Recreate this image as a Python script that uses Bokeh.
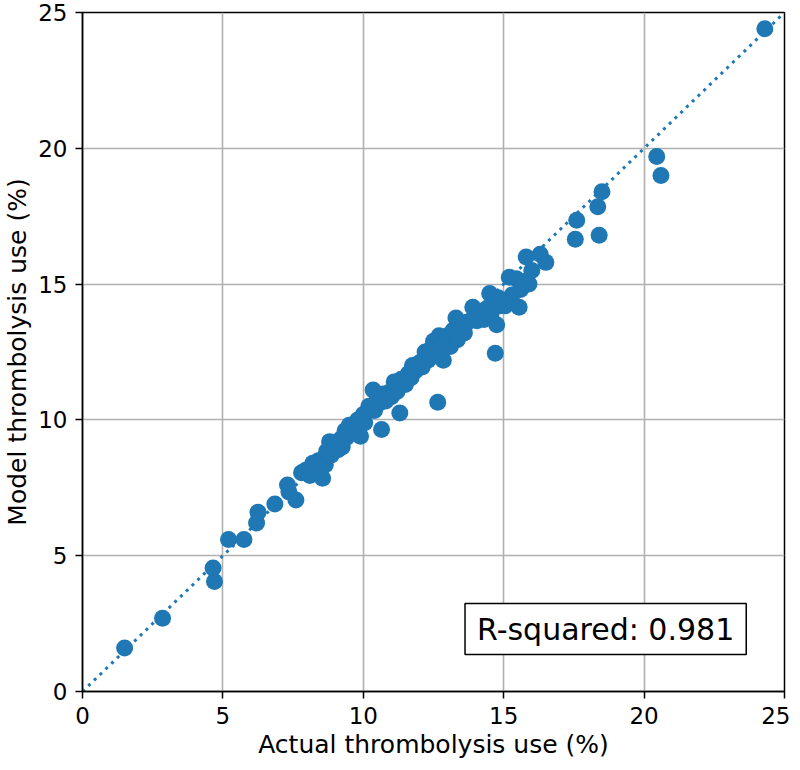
from bokeh.plotting import figure
from bokeh.models import Label, Range1d, FixedTicker
from bokeh.embed import file_html
from bokeh.resources import INLINE

actual = [1.5, 2.85, 4.65, 4.7, 5.2, 5.75, 6.25, 6.2, 6.85, 7.3, 7.35, 7.6, 7.8, 7.95, 8.1, 8.2, 8.3,
          8.4, 8.55, 8.6, 8.65, 8.7, 8.8, 8.85, 8.95, 9.0, 9.1, 9.2, 9.25, 9.35, 9.4, 9.5, 9.55, 9.65,
          9.8, 9.85, 9.9, 10.0, 10.05, 10.2, 10.35, 10.4, 10.5, 10.55, 10.65, 10.7, 10.8, 10.9, 11.0,
          11.1, 11.2, 11.3, 11.35, 11.5, 11.6, 11.7, 11.75, 11.85, 12.0, 12.1, 12.2, 12.3, 12.4, 12.5,
          12.55, 12.65, 12.7, 12.75, 12.85, 12.9, 13.0, 13.1, 13.2, 13.3, 13.35, 13.5, 13.6, 13.7,
          13.9, 13.95, 14.05, 14.2, 14.3, 14.4, 14.5, 14.55, 14.65, 14.7, 14.75, 14.8, 14.9, 15.05,
          15.2, 15.3, 15.45, 15.55, 15.6, 15.7, 15.8, 15.9, 16.0, 16.3, 16.5, 17.55, 17.6, 18.35,
          18.4, 18.5, 20.45, 20.6, 24.3]
model = [1.6, 2.7, 4.55, 4.05, 5.6, 5.6, 6.6, 6.2, 6.9, 7.6, 7.35, 7.05, 8.05, 8.15, 7.95, 8.4, 8.1,
         8.5, 7.85, 8.6, 8.35, 8.85, 9.2, 8.7, 8.95, 9.1, 8.9, 9.3, 9.0, 9.6, 9.35, 9.8, 9.55, 9.75,
         10.0, 9.5, 9.4, 10.2, 9.9, 10.5, 11.1, 10.35, 10.8, 10.6, 9.65, 10.95, 10.7, 11.0, 10.85,
         11.4, 11.05, 10.25, 11.5, 11.3, 11.7, 11.55, 12.0, 11.8, 12.1, 11.95, 12.5, 12.2, 12.6, 12.9,
         12.4, 10.65, 13.1, 12.7, 12.2, 12.9, 13.1, 12.7, 13.3, 13.75, 12.95, 13.4, 13.2, 13.6,
         14.15, 13.8, 13.65, 14.0, 13.7, 14.1, 14.65, 13.9, 14.25, 12.45, 13.5, 14.5, 14.2, 14.2,
         15.25, 14.6, 15.2, 14.15, 14.8, 15.1, 16.0, 15.0, 15.5, 16.1, 15.8, 16.65, 17.35, 17.85,
         16.8, 18.4, 19.7, 19.0, 24.4]
ticks = [0, 5, 10, 15, 20, 25]
line_xy = [0, 25]
r_squared = 0.981

BLUE = "#1f77b4"
FONT = "DejaVu Sans"

p = figure(frame_width=702, frame_height=679, output_backend="svg", toolbar_location=None,
           x_range=Range1d(0, 25), y_range=Range1d(0, 25),
           min_border_left=76, min_border_right=6, min_border_top=12, min_border_bottom=68)

p.line(line_xy, line_xy, line_color=BLUE, line_width=3, line_dash="3 5")
p.scatter(actual, model, size=17, fill_color=BLUE, line_color=BLUE, line_width=0)

for ax in (p.xaxis, p.yaxis):
    ax.ticker = FixedTicker(ticks=ticks)
    ax.minor_tick_line_color = None
    ax.major_tick_in = 0
    ax.major_tick_out = 7
    ax.major_tick_line_width = 1.5
    ax.axis_line_width = 1.5
    ax.major_label_text_font = FONT
    ax.major_label_text_font_size = "23px"
    ax.major_label_text_color = "black"
    ax.axis_label_text_font = FONT
    ax.axis_label_text_font_size = "25px"
    ax.axis_label_text_font_style = "normal"
    ax.axis_label_text_color = "black"

p.xaxis.axis_label = "Actual thrombolysis use (%)"
p.yaxis.axis_label = "Model thrombolysis use (%)"
p.xaxis.major_label_standoff = 8
p.yaxis.major_label_standoff = 8
p.xaxis.axis_label_standoff = 3
p.yaxis.axis_label_standoff = 3

p.grid.grid_line_color = "#b0b0b0"
p.grid.grid_line_width = 1.6
p.outline_line_color = "black"
p.outline_line_width = 1.5
p.outline_line_alpha = 1

lab = Label(x=18.63, y=2.3, text=f"R-squared: {r_squared}", text_font=FONT,
            text_font_size="30px", text_color="black", text_align="center", text_baseline="middle",
            border_line_color="black", border_line_width=1.5,
            background_fill_color="white", background_fill_alpha=1,
            padding=dict(left=12, right=12, top=8, bottom=8))
p.add_layout(lab)

open("out.html", "w").write(file_html(p, INLINE))
